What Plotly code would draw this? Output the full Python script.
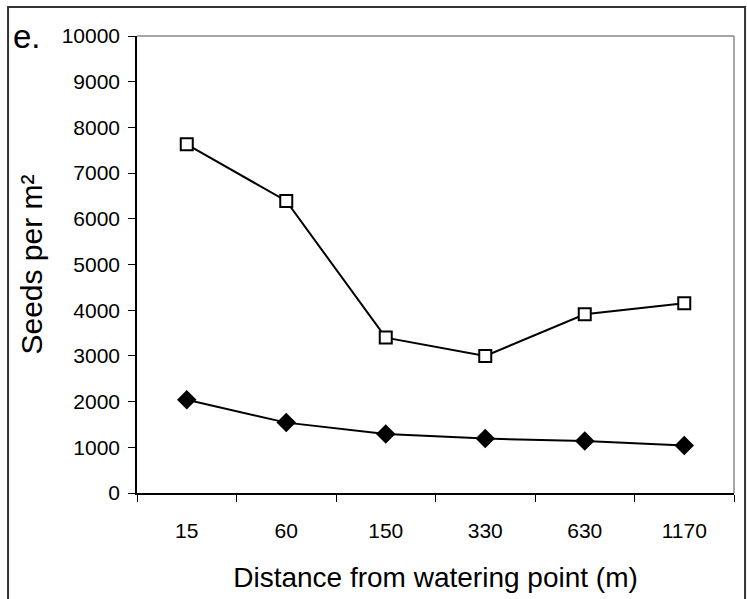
import plotly.graph_objects as go

# Distance classes from the watering point (m) and seed densities (seeds per m²)
distances = ["15", "60", "150", "330", "630", "1170"]
seeds_open = [7630, 6390, 3400, 3000, 3910, 4150]
seeds_filled = [2040, 1540, 1290, 1190, 1140, 1040]

FONT = "Liberation Sans, Arial, sans-serif"

fig = go.Figure()

fig.add_trace(go.Scatter(
    x=distances, y=seeds_open, mode="lines+markers",
    line=dict(color="black", width=2),
    marker=dict(symbol="square", size=12, color="white",
                line=dict(color="black", width=2)),
    showlegend=False,
))
fig.add_trace(go.Scatter(
    x=distances, y=seeds_filled, mode="lines+markers",
    line=dict(color="black", width=2),
    marker=dict(symbol="diamond", size=15, color="black",
                line=dict(color="black", width=0)),
    showlegend=False,
))

fig.update_layout(
    width=747, height=599,
    margin=dict(l=137, r=13, t=36, b=106),
    paper_bgcolor="white", plot_bgcolor="white",
    font=dict(family=FONT, color="black"),
    xaxis=dict(
        type="category",
        showgrid=False, zeroline=False,
        showline=True, linecolor="black", linewidth=1.5,
        ticks="outside", tickson="boundaries", ticklen=7,
        tickcolor="black", tickwidth=1.2,
        tickfont=dict(size=21, family=FONT),
        ticklabelstandoff=18,
        title=dict(text="Distance from watering point (m)",
                   font=dict(size=28, family=FONT), standoff=26),
        range=[-0.5, 5.5],
    ),
    yaxis=dict(
        range=[0, 10000], dtick=1000, tickformat="d",
        showgrid=False, zeroline=False,
        showline=True, linecolor="black", linewidth=1.5,
        ticks="outside", ticklen=7, tickcolor="black", tickwidth=1.2,
        tickfont=dict(size=21, family=FONT),
        ticklabelstandoff=4,
        title=dict(text="Seeds per m²", font=dict(size=30, family=FONT),
                   standoff=10),
    ),
    shapes=[
        # grey frame on the top and right of the plotting area
        dict(type="line", xref="paper", yref="paper", x0=0, x1=1, y0=1, y1=1,
             line=dict(color="#888888", width=1.5)),
        dict(type="line", xref="paper", yref="paper", x0=1, x1=1, y0=0, y1=1,
             line=dict(color="#888888", width=1.5)),
        # outer chart border
        dict(type="rect", xref="paper", yref="paper",
             x0=-0.216, x1=1.0185, y0=-0.26, y1=1.0635,
             line=dict(color="#333333", width=2), layer="below"),
    ],
    annotations=[
        dict(text="e.", xref="paper", yref="paper", x=-0.211, y=0.998,
             xanchor="left", yanchor="middle", showarrow=False,
             font=dict(size=33, family=FONT, color="black")),
    ],
)

fig.write_html("out.html")
